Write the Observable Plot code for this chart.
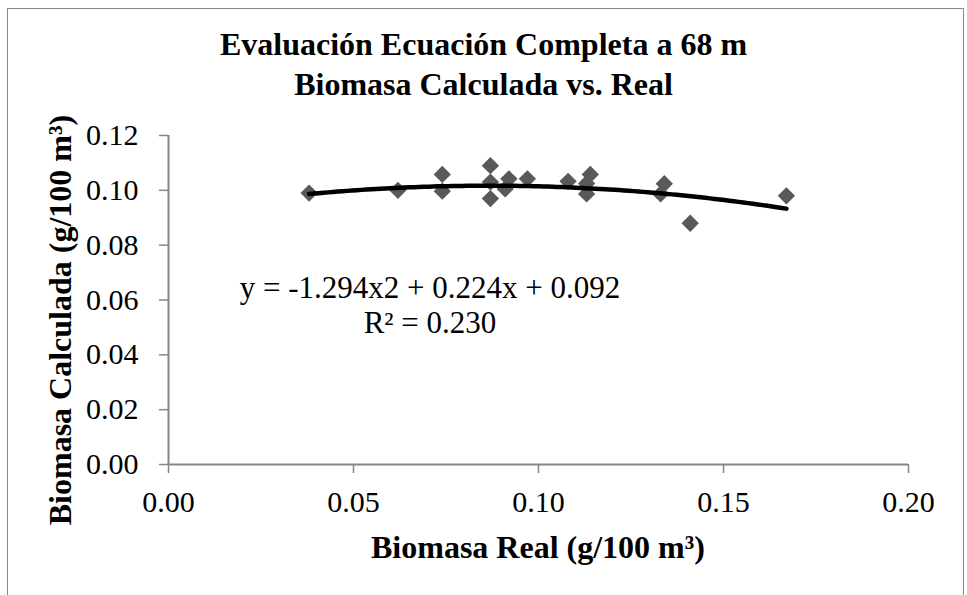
<!DOCTYPE html>
<html>
<head>
<meta charset="utf-8">
<script src="https://cdn.jsdelivr.net/npm/d3@7"></script>
<script src="https://cdn.jsdelivr.net/npm/@observablehq/plot@0.6"></script>
<style>
  html, body { margin: 0; padding: 0; background: #fff; }
  #wrap { position: relative; width: 967px; height: 595px; overflow: hidden; font-family: "Liberation Serif", "Times New Roman", serif; color: #000; }
  #frame { position: absolute; left: 7px; top: 8px; width: 957px; height: 620px; border: 1.5px solid #898989; box-sizing: border-box; }
  #title { position: absolute; left: 0; width: 967px; top: 24px; text-align: center; font-weight: bold; font-size: 32px; line-height: 40px; }
  #xlabel { position: absolute; left: 168px; width: 740px; top: 529px; text-align: center; font-weight: bold; font-size: 32px; line-height: 36px; }
  #ylabel { position: absolute; left: 60px; top: 320px; transform: translate(-50%, -50%) rotate(-90deg); white-space: nowrap; font-weight: bold; font-size: 32px; line-height: 36px; }
  #eq { position: absolute; left: 210px; top: 270px; width: 440px; text-align: center; font-size: 31px; line-height: 35px; }
  #chart { position: absolute; left: 0; top: 0; }
</style>
</head>
<body>
<div id="wrap">
  <div id="frame"></div>
  <div id="chart"></div>
  <div id="title">Evaluación Ecuación Completa a 68 m<br>Biomasa Calculada vs. Real</div>
  <div id="ylabel">Biomasa Calculada (g/100 m³)</div>
  <div id="xlabel">Biomasa Real (g/100 m³)</div>
  <div id="eq">y = -1.294x2 + 0.224x + 0.092<br>R² = 0.230</div>
</div>
<script>
// Observed data (Biomasa Real vs Biomasa Calculada)
const realX = [0.038, 0.062, 0.074, 0.074, 0.087, 0.087, 0.087, 0.092, 0.091, 0.097, 0.108, 0.114, 0.113, 0.113, 0.134, 0.133, 0.141, 0.167];
const calcY = [0.099, 0.100, 0.1058, 0.0997, 0.109, 0.103, 0.097, 0.1042, 0.1005, 0.1042, 0.1033, 0.1058, 0.0987, 0.1025, 0.1024, 0.0987, 0.088, 0.098];
// Polynomial trendline coefficients shown on chart: y = a x^2 + b x + c
const trendCoef = [-1.294, 0.224, 0.092];
const xTicks = [0, 0.05, 0.10, 0.15, 0.20];
const yTicks = [0, 0.02, 0.04, 0.06, 0.08, 0.10, 0.12];

const points = realX.map((x, i) => ({x, y: calcY[i]}));
const xMin = d3.min(realX), xMax = d3.max(realX);
const trend = d3.range(0, 101).map(k => {
  const x = xMin + (xMax - xMin) * k / 100;
  return {x, y: trendCoef[0] * x * x + trendCoef[1] * x + trendCoef[2]};
});

const fmt = d3.format(".2f");
const axisGray = "#868686";

const chart = Plot.plot({
  width: 967,
  height: 595,
  marginLeft: 168,
  marginRight: 59,
  marginTop: 135,
  marginBottom: 131,
  style: {fontFamily: "'Liberation Serif', 'Times New Roman', serif", fontSize: "30px", color: "#000", background: "transparent", overflow: "visible"},
  x: {domain: [0, 0.2]},
  y: {domain: [0, 0.12]},
  marks: [
    Plot.axisY({ticks: yTicks, tickFormat: fmt, tickSize: 9, tickPadding: 21, label: null, stroke: axisGray, strokeWidth: 1.5, fill: "#000"}),
    Plot.axisX({ticks: xTicks, tickFormat: fmt, tickSize: 9, tickPadding: 17, label: null, stroke: axisGray, strokeWidth: 1.5, fill: "#000"}),
    Plot.ruleX([0], {stroke: axisGray, strokeWidth: 2}),
    Plot.ruleY([0], {stroke: axisGray, strokeWidth: 2}),
    Plot.dot(points, {x: "x", y: "y", symbol: "diamond2", r: 7.8, fill: "#595959", stroke: "none"}),
    Plot.line(trend, {x: "x", y: "y", stroke: "#000", strokeWidth: 4.5, curve: "linear"})
  ]
});
document.getElementById("chart").appendChild(chart);
</script>
</body>
</html>
